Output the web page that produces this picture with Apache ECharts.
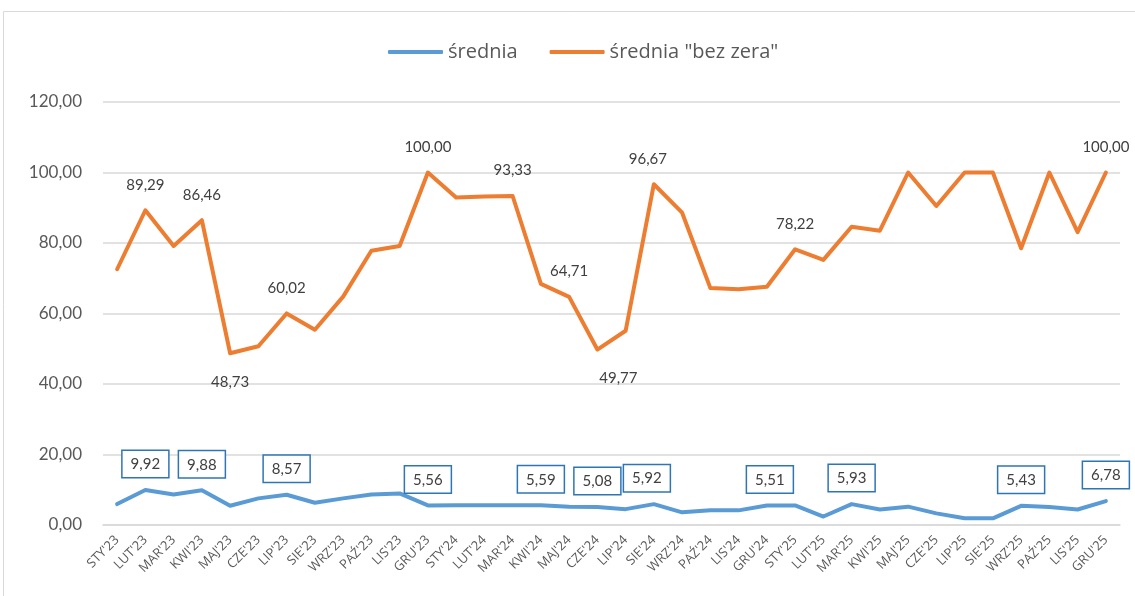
<!DOCTYPE html>
<html>
<head>
<meta charset="utf-8">
<script src="https://cdn.jsdelivr.net/npm/echarts@6/dist/echarts.min.js"></script>
<style>
  html, body { margin: 0; padding: 0; background: #fff; }
  #chart { width: 1135px; height: 596px; }
</style>
</head>
<body>
<div id="chart"></div>
<script>
// miesiące
const months = ["STY'23","LUT'23","MAR'23","KWI'23","MAJ'23","CZE'23","LIP'23","SIE'23","WRZ'23","PAŹ'23","LIS'23","GRU'23",
  "STY'24","LUT'24","MAR'24","KWI'24","MAJ'24","CZE'24","LIP'24","SIE'24","WRZ'24","PAŹ'24","LIS'24","GRU'24",
  "STY'25","LUT'25","MAR'25","KWI'25","MAJ'25","CZE'25","LIP'25","SIE'25","WRZ'25","PAŹ'25","LIS'25","GRU'25"]

const srednia = [5.94, 9.92, 8.68, 9.88, 5.47, 7.55, 8.57, 6.32, 7.55, 8.68, 8.96, 5.56,
  5.6, 5.6, 5.6, 5.59, 5.2, 5.08, 4.5, 5.92, 3.6, 4.2, 4.15, 5.51,
  5.55, 2.4, 5.93, 4.4, 5.2, 3.3, 1.9, 1.9, 5.43, 5.1, 4.4, 6.78]

const sredniaBezZera = [72.55, 89.29, 79.15, 86.46, 48.73, 50.7, 60.02, 55.4, 64.8, 77.8, 79.15, 100,
  92.9, 93.2, 93.33, 68.4, 64.71, 49.77, 55.1, 96.67, 88.6, 67.2, 66.9, 67.6,
  78.22, 75.2, 84.6, 83.5, 100, 90.5, 100, 100, 78.5, 100, 83.1, 100]

// które punkty mają etykiety
const labelsBlue = [1, 3, 6, 11, 15, 17, 19, 23, 26, 32, 35]
const labelsOrange = [1, 3, 4, 6, 11, 14, 16, 17, 19, 24, 35]
const orangeBelow = [4, 17]

const yTicks = { min: 0, max: 120, interval: 20 }

function fmt (v) {
  return v.toFixed(2).replace('.', ',')
}

let chart = echarts.init(document.getElementById('chart'))

let blueData = srednia.map(function (v, i) {
  if (labelsBlue.indexOf(i) < 0) return v
  return {
    value: v,
    label: {
      show: true,
      position: 'top',
      distance: 13,
      offset: i === 19 ? [-7, 0] : (i === 23 ? [3, 0] : [0, 0]),
      formatter: function (p) { return fmt(p.value) },
      color: '#404040',
      fontSize: 15,
      fontFamily: 'Lato',
      backgroundColor: '#fff',
      borderColor: '#2e75b6',
      borderWidth: 1.5,
      padding: [6, 8, 5, 8]
    }
  }
})

let orangeData = sredniaBezZera.map(function (v, i) {
  if (labelsOrange.indexOf(i) < 0) return v
  let below = orangeBelow.indexOf(i) >= 0
  return {
    value: v,
    label: {
      show: true,
      position: below ? 'bottom' : 'top',
      distance: below ? 21 : 18,
      offset: i === 17 ? [21, 0] : (i === 19 ? [-6, 0] : [0, 0]),
      formatter: function (p) { return fmt(p.value) },
      color: '#404040',
      fontSize: 15,
      fontFamily: 'Lato'
    }
  }
})

chart.setOption({
  animation: false,
  textStyle: { fontFamily: 'Lato' },
  graphic: [
    {
      type: 'rect',
      shape: { x: 3.5, y: 11.5, width: 1140, height: 600 },
      style: { fill: 'none', stroke: '#d9d9d9', lineWidth: 1 },
      silent: true
    }
  ],
  legend: {
    left: 383,
    top: 37,
    itemWidth: 55,
    itemHeight: 4,
    itemGap: 32,
    icon: 'roundRect',
    textStyle: { fontSize: 20, color: '#595959', fontFamily: 'Open Sans' },
    data: ['średnia', 'średnia "bez zera"']
  },
  grid: {
    left: 103,
    right: 15,
    top: 102,
    bottom: 71
  },
  xAxis: {
    type: 'category',
    data: months,
    boundaryGap: true,
    axisLine: { lineStyle: { color: '#d9d9d9', width: 1.5 } },
    axisTick: { show: false },
    axisLabel: {
      rotate: 45,
      interval: 0,
      margin: 13,
      fontSize: 13,
      color: '#595959',
      fontFamily: 'Open Sans'
    }
  },
  yAxis: {
    type: 'value',
    min: yTicks.min,
    max: yTicks.max,
    interval: yTicks.interval,
    axisLine: { show: false },
    axisTick: { show: false },
    splitLine: { lineStyle: { color: '#d9d9d9', width: 1.5 } },
    axisLabel: {
      margin: 21,
      fontSize: 17,
      color: '#595959',
      fontFamily: 'Lato',
      formatter: function (v) { return fmt(v) }
    }
  },
  series: [
    {
      name: 'średnia',
      type: 'line',
      data: blueData,
      symbol: 'circle',
      symbolSize: 0,
      showSymbol: true,
      lineStyle: { color: '#5b9bd5', width: 4, cap: 'round', join: 'round' },
      itemStyle: { color: '#5b9bd5' },
      z: 3
    },
    {
      name: 'średnia "bez zera"',
      type: 'line',
      data: orangeData,
      symbol: 'circle',
      symbolSize: 0,
      showSymbol: true,
      lineStyle: { color: '#ed7d31', width: 4, cap: 'round', join: 'round' },
      itemStyle: { color: '#ed7d31' },
      z: 2
    }
  ]
})
</script>
</body>
</html>
